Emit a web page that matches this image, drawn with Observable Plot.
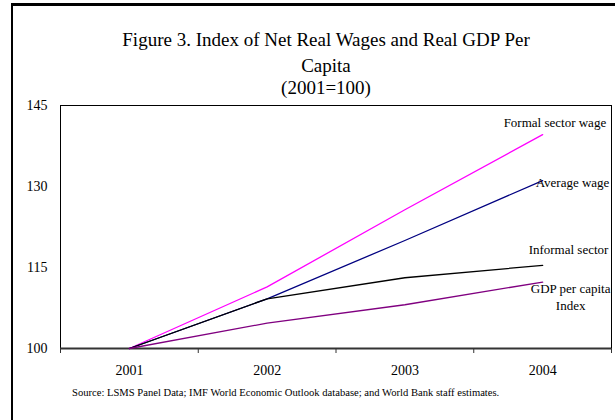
<!DOCTYPE html>
<html>
<head>
<meta charset="utf-8">
<script src="https://cdn.jsdelivr.net/npm/d3@7"></script>
<script src="https://cdn.jsdelivr.net/npm/@observablehq/plot@0.6"></script>
<style>
  html, body { margin: 0; padding: 0; background: white; }
  body { width: 615px; height: 420px; overflow: hidden; position: relative; font-family: "Liberation Serif", "Times New Roman", serif; }
  #frame { position: absolute; left: 11px; top: 3px; width: 700px; height: 500px; border-left: 2px solid black; border-top: 3px solid black; pointer-events: none; }
  #title { position: relative; height: 97px; width: 615px; }
  #title div { position: absolute; left: 37px; right: 0; text-align: center; font-size: 19px; line-height: 19px; color: black; }
  #chart svg { display: block; }
  #source { padding-left: 72px; font-size: 10.6px; line-height: 12px; color: black; }
</style>
</head>
<body>
<div id="frame"></div>
<div id="title">
  <div style="top:30px">Figure 3. Index of Net Real Wages and Real GDP Per</div>
  <div style="top:56px">Capita</div>
  <div style="top:78px">(2001=100)</div>
</div>
<div id="chart"></div>
<div id="source">Source: LSMS Panel Data; IMF World Economic Outlook database; and World Bank staff estimates.</div>
<script>
// ---- data ----
const years = [2001, 2002, 2003, 2004];
const formalWage = [100, 111.4, 125.7, 139.6];
const averageWage = [100, 109.2, 120.0, 131.1];
const informalWage = [100, 109.2, 113.1, 115.4];
const gdpPerCapita = [100, 104.7, 108.1, 112.3];
const seriesNames = ["Formal sector wage", "Average wage", "Informal sector", "GDP per capita\nIndex"];
const yTicks = [100, 115, 130, 145];

// ---- styling (kept apart from data) ----
const seriesValues = [formalWage, averageWage, informalWage, gdpPerCapita];
const seriesColors = ["#FF00FF", "#000080", "#000000", "#800080"];
const labelStyle = [
  {dx: -39, dy: -20.4, textAnchor: "start"},
  {dx: -7, dy: -6, textAnchor: "start"},
  {dx: -14, dy: -24, textAnchor: "start"},
  {dx: 28, dy: -1.5, textAnchor: "middle"}
];

const series = seriesNames.map((name, i) => ({name, values: seriesValues[i], color: seriesColors[i]}));
const rows = series.flatMap(s => years.map((year, j) => ({year, value: s.values[j], name: s.name})));
const bounds = [...years.map(y => y - 0.5), years[years.length - 1] + 0.5];
const lastYear = years[years.length - 1];

const font = '"Liberation Serif", "Times New Roman", serif';

const marks = [
  Plot.frame({stroke: "black", strokeWidth: 1}),
  Plot.ruleY([yTicks[0]], {stroke: "#333", strokeWidth: 2}),
  Plot.axisX({ticks: bounds, tickSize: 5, tickFormat: () => "", label: null, stroke: "#333"}),
  Plot.axisX({ticks: years, tickSize: 0, tickPadding: 17, tickFormat: d => String(d), label: null, fontSize: 14}),
  Plot.axisY({ticks: yTicks, tickSize: 0, tickPadding: 13, label: null, fontSize: 14}),
  ...series.map(s => Plot.line(rows.filter(r => r.name === s.name), {x: "year", y: "value", stroke: s.color, strokeWidth: 1.3})),
  ...series.map((s, i) => Plot.text([s], {
    x: () => lastYear,
    y: d => d.values[d.values.length - 1],
    text: "name",
    fontSize: 13,
    lineAnchor: "top",
    lineHeight: 1.34,
    fill: "black",
    ...labelStyle[i]
  }))
];

const chart = Plot.plot({
  width: 615,
  height: 290,
  marginTop: 8,
  marginBottom: 39,
  marginLeft: 60,
  marginRight: 4,
  style: {fontFamily: font, fontSize: "14px", color: "black", background: "transparent", overflow: "visible"},
  x: {type: "linear", domain: [bounds[0], bounds[bounds.length - 1]]},
  y: {domain: [yTicks[0], yTicks[yTicks.length - 1]]},
  marks
});
document.getElementById("chart").appendChild(chart);
</script>
</body>
</html>
